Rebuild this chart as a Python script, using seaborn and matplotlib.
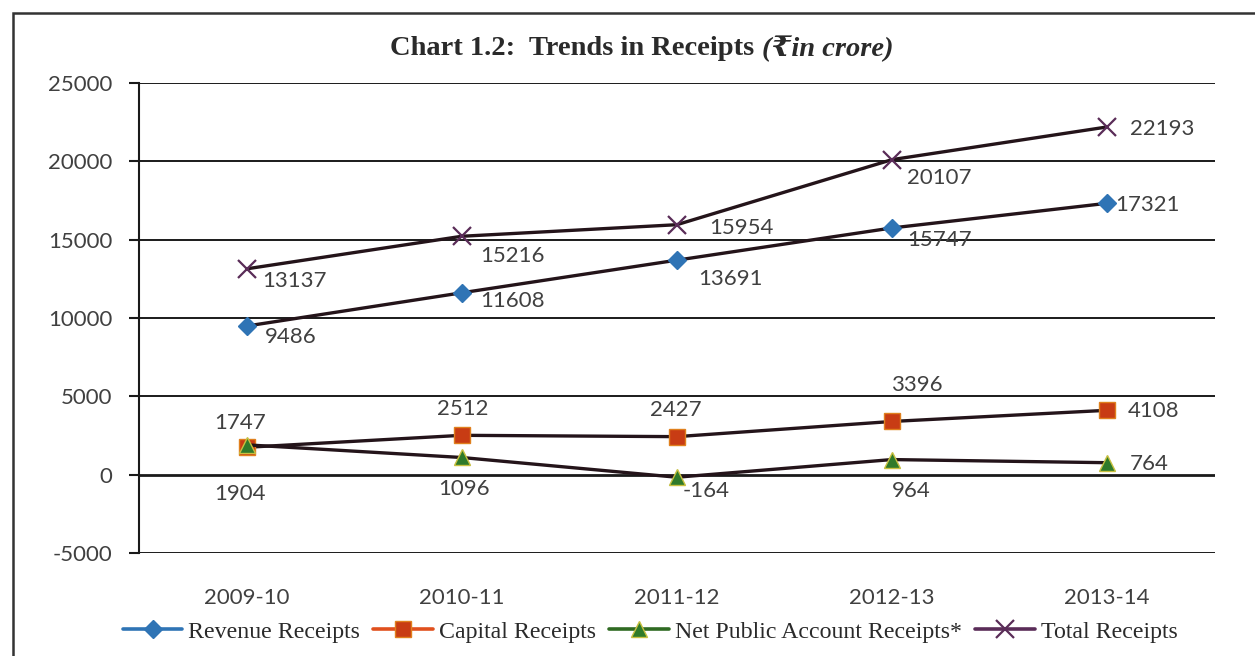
import matplotlib
matplotlib.use("Agg")
import matplotlib.pyplot as plt
from matplotlib.lines import Line2D
from matplotlib.patches import Rectangle
import pandas as pd
import seaborn as sns

years = ["2009-10", "2010-11", "2011-12", "2012-13", "2013-14"]
revenue = [9486, 11608, 13691, 15747, 17321]
capital = [1747, 2512, 2427, 3396, 4108]
net_public = [1904, 1096, -164, 964, 764]
total = [13137, 15216, 15954, 20107, 22193]

series_names = ["Revenue Receipts", "Capital Receipts",
                "Net Public Account Receipts*", "Total Receipts"]
series_values = [revenue, capital, net_public, total]

# marker styling per series: (marker, size, face, edge, edge width)
styles = {
    "Revenue Receipts": ("D", 9, "#2f74b5", "#2f74b5", 1.0),
    "Capital Receipts": ("s", 11, "#c83c14", "#e0801e", 1.0),
    "Net Public Account Receipts*": ("^", 11, "#2f7a2a", "#c8c040", 1.0),
    "Total Receipts": ("x", 13, "#5a2c58", "#5a2c58", 1.6),
}
legend_line_colors = {
    "Revenue Receipts": "#2f74b5",
    "Capital Receipts": "#e0501e",
    "Net Public Account Receipts*": "#2f6a22",
    "Total Receipts": "#5a2c58",
}

# label placement: (dx px, dy px, horizontal alignment)
label_offsets = {
    "Revenue Receipts": [(18, -11, "left"), (18, -8, "left"), (21, -19, "left"),
                         (15, -12, "left"), (8, -2, "left")],
    "Capital Receipts": [(-7, 24, "center"), (1, 26, "center"), (-1, 27, "center"),
                         (25, 36, "center"), (21, -1, "left")],
    "Net Public Account Receipts*": [(-7, -49, "center"), (2, -32, "center"),
                                     (29, -14, "center"), (19, -31, "center"),
                                     (23, -1, "left")],
    "Total Receipts": [(16, -12, "left"), (18, -20, "left"), (32, -3, "left"),
                       (15, -18, "left"), (23, -2, "left")],
}

df = pd.DataFrame({
    "Year": years * len(series_names),
    "Series": [n for n in series_names for _ in years],
    "Value": [v for vals in series_values for v in vals],
})

sns.set_theme(style="white")
plt.rcParams["axes.unicode_minus"] = False
label_font = ["Lato", "DejaVu Sans"]
serif_font = ["Liberation Serif", "DejaVu Serif", "DejaVu Sans"]

fig = plt.figure(figsize=(12.55, 6.56), dpi=100)
fig.patch.set_facecolor("white")
ax = fig.add_axes([0.1108, 0.157, 0.857, 0.7165])

line_color = "#24141a"
for name in series_names:
    m, ms, fc, ec, mew = styles[name]
    sub = df[df["Series"] == name]
    sns.lineplot(data=sub, x="Year", y="Value", ax=ax, sort=False,
                 color=line_color, linewidth=2.4, marker=m, markersize=ms,
                 markerfacecolor=fc, markeredgecolor=ec, markeredgewidth=mew,
                 legend=False, zorder=3)

ax.set_xlim(-0.5, 4.5)
ax.set_ylim(-5000, 25000)
ax.set_yticks(range(-5000, 25001, 5000))
ax.set_xlabel("")
ax.set_ylabel("")

for y in range(-5000, 25001, 5000):
    ax.axhline(y, color="#1a1a1a", linewidth=1.4 if y != 0 else 2.0, zorder=1)

for s in ["top", "right", "bottom"]:
    ax.spines[s].set_visible(False)
ax.spines["left"].set_color("#1a1a1a")
ax.spines["left"].set_linewidth(1.5)

tick_size = 16
ax.tick_params(axis="y", left=True, length=7, width=1.5, color="#1a1a1a",
               pad=12, labelsize=tick_size, labelcolor="#404040")
ax.tick_params(axis="x", bottom=False, length=0, pad=25, labelsize=tick_size,
               labelcolor="#404040")
for lab in ax.get_xticklabels() + ax.get_yticklabels():
    lab.set_family(label_font)

# value labels
px = 72 / 100
for name, vals in zip(series_names, series_values):
    for i, v in enumerate(vals):
        dx, dy, ha = label_offsets[name][i]
        ax.annotate(f"{v}", xy=(i, v), xytext=(dx * px, dy * px),
                    textcoords="offset points", ha=ha, va="center",
                    fontsize=tick_size, color="#404040", family=label_font, zorder=4)

# title
fig.text(0.607, 0.926, "Chart 1.2:  Trends in Receipts ", ha="right", va="center",
         fontsize=20.5, fontweight="bold", color="#2a2a2a", family=serif_font)
fig.text(0.607, 0.926, "(\u20b9in crore)", ha="left", va="center",
         fontsize=20.5, fontweight="bold", style="italic", color="#2a2a2a",
         family=serif_font)

# legend with coloured lines
handles = []
for name in series_names:
    m, ms, fc, ec, mew = styles[name]
    handles.append(Line2D([0], [0], color=legend_line_colors[name], linewidth=2.6,
                          marker=m, markersize=ms, markerfacecolor=fc,
                          markeredgecolor=ec, markeredgewidth=mew))
fig.legend(handles, series_names, loc="center", bbox_to_anchor=(0.518, 0.037),
           ncol=4, frameon=False, handlelength=2.5, handletextpad=0.25,
           columnspacing=0.55, prop={"family": serif_font, "size": 17.2},
           labelcolor="#2a2a2a")

# outer frame
fig.patches.append(Rectangle((0.0104, -0.05), 1.2, 1.03, transform=fig.transFigure,
                             fill=False, edgecolor="#333333", linewidth=1.8))

fig.savefig("out.png", dpi=100, facecolor="white")
